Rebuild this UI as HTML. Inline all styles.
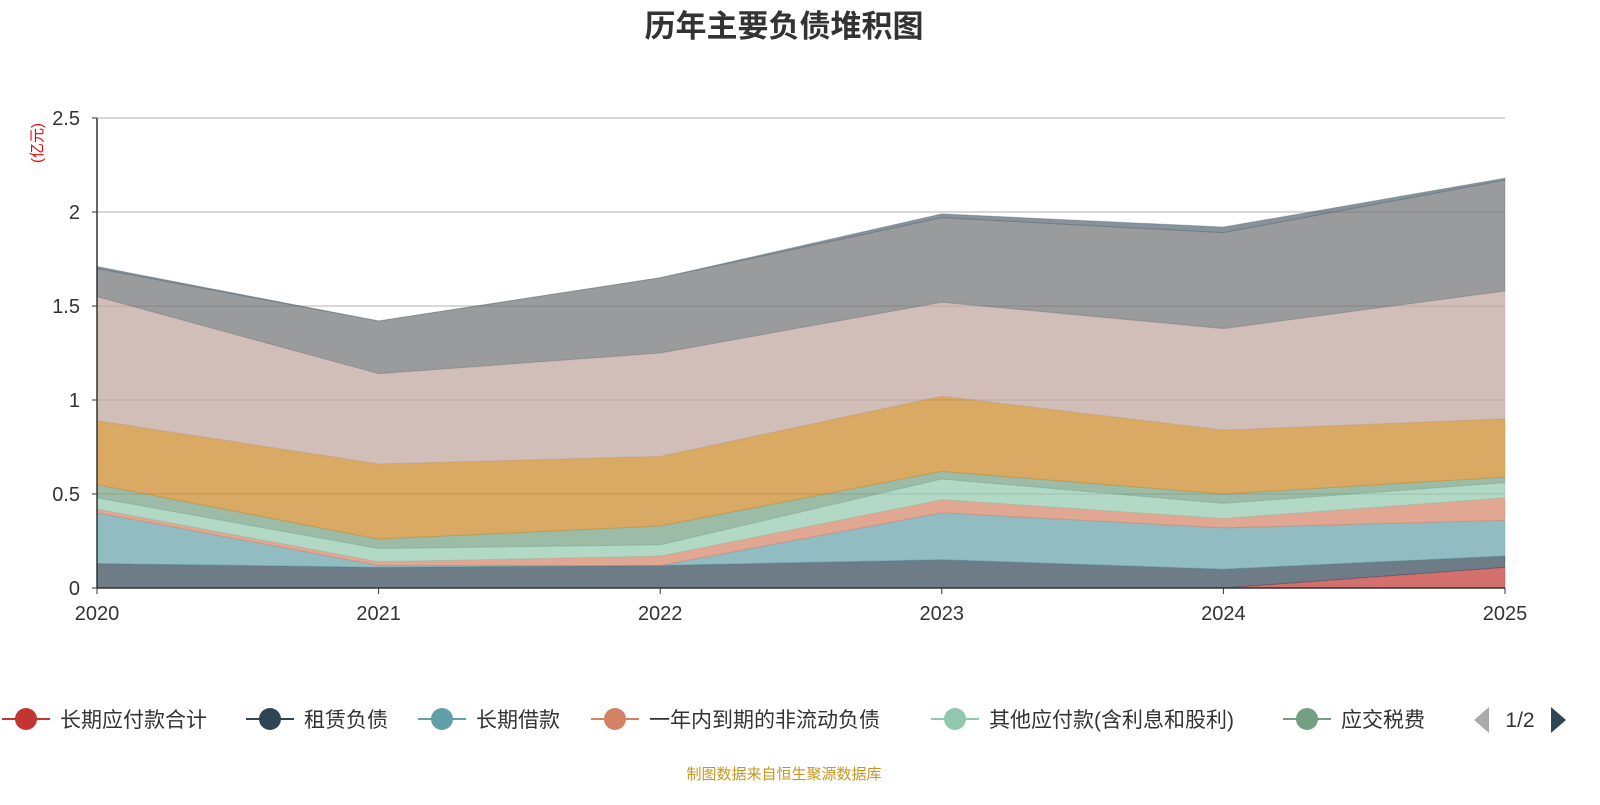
<!DOCTYPE html>
<html><head><meta charset="utf-8"><style>
body{margin:0;background:#fff;font-family:"Liberation Sans","Noto Sans CJK SC",sans-serif;}
svg text{font-family:"Liberation Sans","Noto Sans CJK SC",sans-serif;}
</style></head><body>
<svg id="chart" width="1600" height="800" xmlns="http://www.w3.org/2000/svg">
<text x="784" y="37" text-anchor="middle" font-size="31" font-weight="bold" fill="#333">历年主要负债堆积图</text>
<text transform="translate(42,143) rotate(-90)" text-anchor="middle" font-size="15" fill="#e00">(亿元)</text>
<g id="grid"></g><g id="areas"></g><g id="axes"></g>
<g id="legend"></g>
<text x="784" y="779" text-anchor="middle" font-size="15" fill="#c8961e">制图数据来自恒生聚源数据库</text>
</svg>
<script>
const years=["2020","2021","2022","2023","2024","2025"];
const yTicks=[0,0.5,1,1.5,2,2.5];
const yTickLabels=["0","0.5","1","1.5","2","2.5"];
const names=["长期应付款合计","租赁负债","长期借款","一年内到期的非流动负债","其他应付款(含利息和股利)","应交税费","应付账款","合同负债","应付票据","其他"];
const colors=["#c23531","#2f4554","#61a0a8","#d48265","#91c7ae","#749f83","#ca8622","#bda29a","#6e7074","#546570"];
const s0=[0,0,0,0,0,0.11];
const s1=[0.13,0.11,0.12,0.15,0.10,0.06];
const s2=[0.27,0.01,0,0.25,0.22,0.19];
const s3=[0.02,0.02,0.05,0.07,0.05,0.12];
const s4=[0.06,0.07,0.06,0.11,0.08,0.08];
const s5=[0.07,0.05,0.10,0.04,0.05,0.03];
const s6=[0.34,0.40,0.37,0.40,0.34,0.31];
const s7=[0.66,0.48,0.55,0.50,0.54,0.68];
const s8=[0.15,0.28,0.40,0.45,0.51,0.59];
const s9=[0.01,0,0,0.02,0.03,0.01];
const series=[s0,s1,s2,s3,s4,s5,s6,s7,s8,s9];
const NS="http://www.w3.org/2000/svg";
const X0=97,X1=1505,Y0=588,Y1=118;
const xs=i=>X0+(X1-X0)*i/(years.length-1);
const ys=v=>Y0-(Y0-Y1)*v/2.5;
function mk(t,a,p){const e=document.createElementNS(NS,t);for(const k in a)e.setAttribute(k,a[k]);p.appendChild(e);return e;}
const grid=document.getElementById('grid'),axes=document.getElementById('axes'),areas=document.getElementById('areas');
yTicks.forEach((v,i)=>{
 if(v>0){const l=mk('line',{x1:X0,x2:X1,y1:ys(v),y2:ys(v),stroke:'#ccc','stroke-width':1.5},grid);
 
 }
 const t=mk('text',{x:80,y:ys(v)+7,'text-anchor':'end','font-size':20,fill:'#333'},axes);t.textContent=yTickLabels[i];
 
 
 mk('line',{x1:X0-5,x2:X0,y1:ys(v),y2:ys(v),stroke:'#333'},axes);
});
let base=years.map(()=>0);
series.forEach((s,k)=>{
 const top=base.map((b,i)=>b+s[i]);
 let d='M'+top.map((v,i)=>xs(i)+','+ys(v)).join('L');
 for(let i=years.length-1;i>=0;i--)d+='L'+xs(i)+','+ys(base[i]);
 const p=mk('path',{d:d+'Z',fill:colors[k],'fill-opacity':0.7,stroke:colors[k],'stroke-width':1,'stroke-opacity':0.35},areas);
 
 
 base=top;
});
mk('line',{x1:X0,x2:X0,y1:Y1,y2:Y0,stroke:'#333','stroke-width':1.5},axes);
mk('line',{x1:X0,x2:X1,y1:Y0,y2:Y0,stroke:'#333','stroke-width':1.5},axes);
years.forEach((y,i)=>{
 mk('line',{x1:xs(i),x2:xs(i),y1:Y0,y2:Y0+6,stroke:'#333'},axes);
 const t=mk('text',{x:xs(i),y:620,'text-anchor':'middle','font-size':20,fill:'#333'},axes);t.textContent=y;
 
 
});
const lg=document.getElementById('legend');
const lx=[26,270,442,615,955,1307];
for(let k=0;k<6;k++){
 const g=mk('g',{},lg);
 
 
 mk('line',{x1:lx[k]-24,x2:lx[k]+24,y1:719,y2:719,stroke:colors[k],'stroke-width':2},g);
 mk('circle',{cx:lx[k],cy:719,r:11,fill:colors[k]},g);
 const t=mk('text',{x:lx[k]+34,y:727,'font-size':21,fill:'#333'},g);t.textContent=names[k];
}
const pl=mk('path',{d:'M1489,707 L1489,733 L1474,720 Z',fill:'#aaa'},lg);


const pt=mk('text',{x:1520,y:727,'text-anchor':'middle','font-size':21,fill:'#333'},lg);pt.textContent='1/2';


const pn=mk('path',{d:'M1551,707 L1551,733 L1566,720 Z',fill:'#2f4554'},lg);


</script>
</body></html>
